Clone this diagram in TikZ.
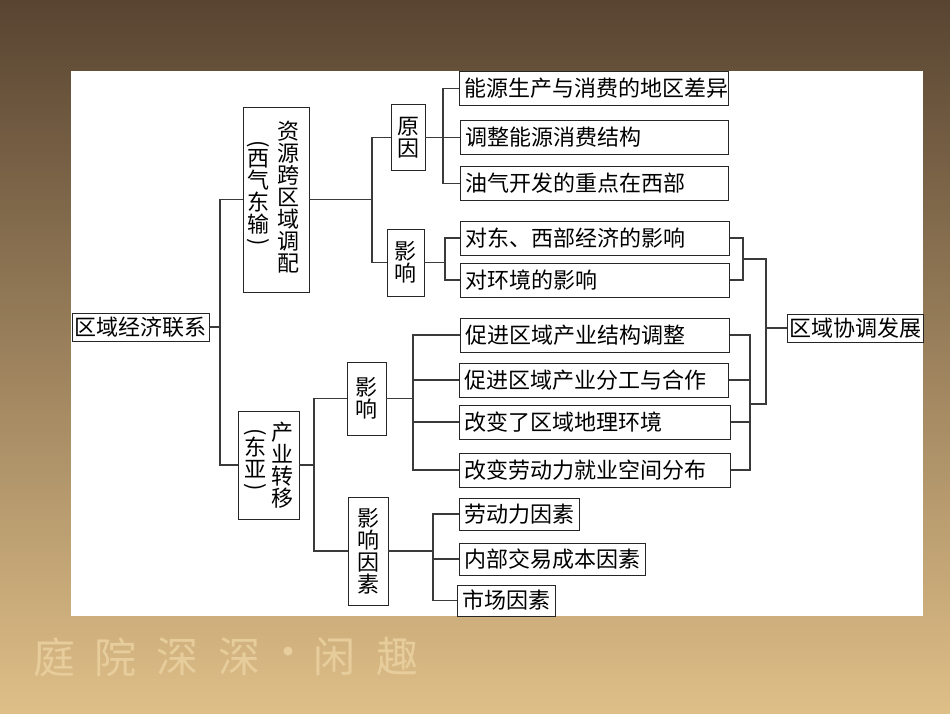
\documentclass[tikz,border=0pt]{standalone}
\usepackage{fontspec}
\newfontfamily\cjk{Noto Sans CJK SC}
\definecolor{BgTop}{HTML}{584431}
\definecolor{BgMid}{HTML}{A07E52}
\definecolor{BgBot}{HTML}{DFBF88}
\definecolor{SealInk}{HTML}{E6CD9B}
\definecolor{LineGray}{HTML}{3A3A3A}

\begin{document}
\begin{tikzpicture}[x=1pt, y=-1pt,
      font=\cjk\fontsize{22}{22}\selectfont,
      box/.style={draw=black!85, line width=0.9pt, fill=white, inner sep=0pt, align=center},
      leaf/.style={box, anchor=west, inner xsep=5pt, minimum height=34pt, align=left},
      col/.style={align=center, inner sep=0pt},
      link/.style={draw=LineGray, line width=1.1pt},
      seal/.style={text=SealInk, inner sep=0pt, font=\cjk\fontsize{42}{42}\selectfont}
    ]
      \useasboundingbox (0,0) rectangle (950,713);
      \shade[top color=BgTop, middle color=BgMid, bottom color=BgBot] (0,0) rectangle (950,713);
      \foreach \x/\c [count=\i] in {54/庭,115/院,177/深,239/深,288/·,334/闲,397/趣}
        \node[seal] (seal\i) at (\x,657) {\c};
      \fill[white] (71,71) rectangle (923,616);
      % root and the two branches
      \node[box, minimum width=137pt, minimum height=28pt] (root) at (140.5,327) {区域经济联系};
      \node[box, minimum width=66pt, minimum height=185pt] (src) at (276,199.5) {};
      \node[col] (srcR) at (288,197) {资\\源\\跨\\区\\域\\调\\配};
      \node[col] (srcL) at (258,193) {\rotatebox{-90}{(}\\西\\气\\东\\输\\[-16pt]\rotatebox{-90}{)}};
      \node[box, minimum width=61pt, minimum height=108pt] (ind) at (268.5,465) {};
      \node[col] (indR) at (282,465) {产\\业\\转\\移};
      \node[col] (indL) at (255,460) {\rotatebox{-90}{(}\\东\\亚\\[-16pt]\rotatebox{-90}{)}};
      % middle level
      \node[box, minimum width=34pt, minimum height=66pt] (why) at (408,137.5) {原\\因};
      \node[box, minimum width=37pt, minimum height=67pt] (effA) at (405.5,262.5) {影\\响};
      \node[box, minimum width=39pt, minimum height=73pt] (effB) at (366.5,398.5) {影\\响};
      \node[box, minimum width=40pt, minimum height=108pt] (fac) at (368,551) {影\\响\\因\\素};
      % leaves
      \node[leaf, text width=259pt] (r1) at (459,88.5) {能源生产与消费的地区差异};
      \node[leaf, text width=258pt] (r2) at (460,137.5) {调整能源消费结构};
      \node[leaf, text width=258pt] (r3) at (460,183.5) {油气开发的重点在西部};
      \node[leaf, text width=259pt] (e1) at (460,238) {对东、西部经济的影响};
      \node[leaf, text width=259pt] (e2) at (460,280) {对环境的影响};
      \node[leaf, text width=259pt] (i1) at (460,335) {促进区域产业结构调整};
      \node[leaf, text width=259pt] (i2) at (459,380) {促进区域产业分工与合作};
      \node[leaf, text width=261pt] (i3) at (459,422) {改变了区域地理环境};
      \node[leaf, text width=261pt] (i4) at (459,470) {改变劳动力就业空间分布};
      \node[leaf, minimum height=32pt] (f1) at (459,514) {劳动力因素};
      \node[leaf, minimum height=32pt] (f2) at (459,559) {内部交易成本因素};
      \node[leaf, minimum height=31pt] (f3) at (457,600.5) {市场因素};
      \node[box, minimum width=136pt, minimum height=28pt] (goal) at (855,328) {区域协调发展};
      % bus lines
      \coordinate (busRoot) at (220,327);
      \coordinate (busSrc) at (372,199.5);
      \coordinate (busWhy) at (443,137.5);
      \coordinate (busEffA) at (445,262.5);
      \coordinate (busInd) at (314,465);
      \coordinate (busEffB) at (413,398.5);
      \coordinate (busFac) at (433,551);
      \coordinate (busE) at (743,259);
      \coordinate (busI) at (750,404);
      \coordinate (busGoal) at (766,328);
      \draw[link] (root.east) -- (busRoot);
      \foreach \n in {src,ind} \draw[link] (\n.west) -| (busRoot);
      \draw[link] (src.east) -- (busSrc);
      \foreach \n in {why,effA} \draw[link] (\n.west) -| (busSrc);
      \draw[link] (why.east) -- (busWhy);
      \foreach \n in {r1,r2,r3} \draw[link] (\n.west) -| (busWhy);
      \draw[link] (effA.east) -- (busEffA);
      \foreach \n in {e1,e2} \draw[link] (\n.west) -| (busEffA);
      \draw[link] (ind.east) -- (busInd);
      \foreach \n in {effB,fac} \draw[link] (\n.west) -| (busInd);
      \draw[link] (effB.east) -- (busEffB);
      \foreach \n in {i1,i2,i3,i4} \draw[link] (\n.west) -| (busEffB);
      \draw[link] (fac.east) -- (busFac);
      \foreach \n in {f1,f2,f3} \draw[link] (\n.west) -| (busFac);
      % merging towards the goal
      \foreach \n in {e1,e2} \draw[link] (\n.east) -| (busE);
      \foreach \n in {i1,i2,i3,i4} \draw[link] (\n.east) -| (busI);
      \draw[link] (busE) -| (busGoal);
      \draw[link] (busI) -| (busGoal);
      \draw[link] (busGoal) -- (goal.west);
    \end{tikzpicture}
\end{document}
